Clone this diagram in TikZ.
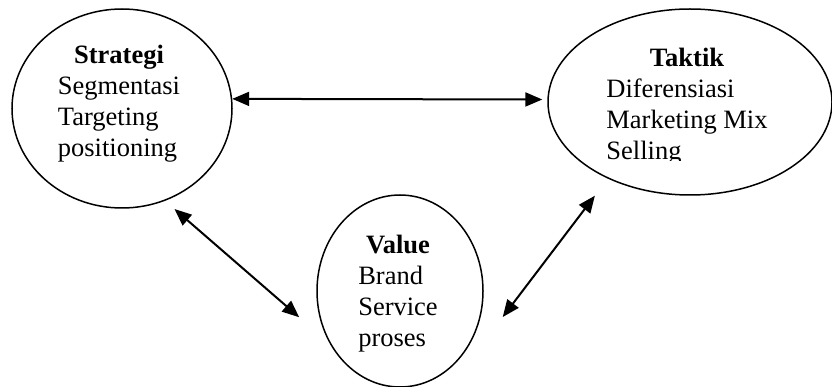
\documentclass[tikz,border=0pt]{standalone}
\usepackage{fontspec}
\setmainfont{Liberation Serif}
\usetikzlibrary{shapes.geometric,arrows.meta}

\begin{document}
\begin{tikzpicture}[x=1pt,y=-1pt,
    bubble/.style={draw,ellipse,line width=1.5pt,inner sep=0pt},
    words/.style={inner sep=0pt,font=\fontsize{26.5}{30.8}\selectfont},
    link/.style={{Triangle[length=17pt,width=14pt]}-{Triangle[length=17pt,width=14pt]},line width=2pt}]
      \useasboundingbox (0,0) rectangle (832,387);
      % the three circles
      \node[bubble,minimum width=220,minimum height=199] (strategi) at (122,108.5) {};
      \node[bubble,minimum width=284,minimum height=186] (taktik) at (690,102) {};
      \node[bubble,minimum width=166,minimum height=192] (value) at (400,291) {};
      % their texts
      \node[words] (strategitext) at (119,104) {\begin{tabular}{@{}l@{}}\multicolumn{1}{@{}c@{}}{\textbf{Strategi}}\\ Segmentasi\\ Targeting\\ positioning\end{tabular}};
      \begin{scope}
        \clip (540,0) rectangle (832,160.5);
        \node[words] (taktiktext) at (687,107) {\begin{tabular}{@{}l@{}}\multicolumn{1}{@{}c@{}}{\textbf{Taktik}}\\ Diferensiasi\\ Marketing Mix\\ Selling\end{tabular}};
      \end{scope}
      \node[words] (valuetext) at (398,294) {\begin{tabular}{@{}l@{}}\multicolumn{1}{@{}c@{}}{\textbf{Value}}\\ Brand\\ Service\\ proses\end{tabular}};
      % arrows
      \draw[link,shorten >=5pt] (strategi.5) -- (taktik.179);
      \draw[link,shorten <=12.5pt,shorten >=40.6pt] (strategi.-65) -- (value.217);
      \draw[link,shorten <=21.4pt] (taktik.223) -- ([xshift=19pt,yshift=-26pt]value.east);
    \end{tikzpicture}
\end{document}
